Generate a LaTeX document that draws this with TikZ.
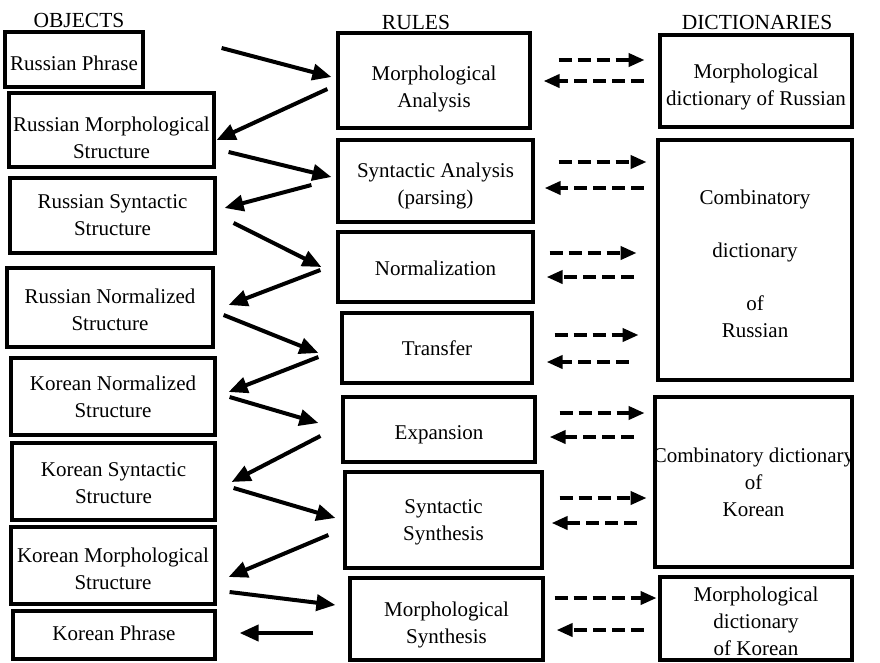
\documentclass[tikz,border=0pt]{standalone}
\usepackage{fontspec}
\setmainfont{Liberation Serif}
\usetikzlibrary{arrows.meta}
\tikzset{
  box/.style={draw, line width=3.2pt, inner sep=0pt},
  txt/.style={inner sep=0pt, align=center, font=\fontsize{21}{27}\selectfont},
  hdr/.style={inner sep=0pt, font=\fontsize{21.5}{25}\selectfont},
  sarr/.style={line width=4pt, -{Triangle[length=19pt,width=16pt]}},
  darr/.style={line width=3.8pt, dash pattern=on 13pt off 6pt, -{Triangle[length=16pt,width=13pt]}}
}
\begin{document}
\begin{tikzpicture}[x=1pt,y=-1pt]
\useasboundingbox (0,0) rectangle (880,662);
% headers
\node[hdr] (hobj) at (79,20) {OBJECTS};
\node[hdr] (hrul) at (416,22) {RULES};
\node[hdr] (hdic) at (757,22) {DICTIONARIES};
% objects
\node[box, minimum width=138pt, minimum height=55pt] (o1) at (74,59.5) {};
\node[box, minimum width=205pt, minimum height=74pt] (o2) at (111.5,130) {};
\node[box, minimum width=205pt, minimum height=75pt] (o3) at (112.5,215.5) {};
\node[box, minimum width=206pt, minimum height=79pt] (o4) at (110,307.5) {};
\node[box, minimum width=204pt, minimum height=77pt] (o5) at (113,396.5) {};
\node[box, minimum width=203pt, minimum height=77pt] (o6) at (113.5,481.5) {};
\node[box, minimum width=204pt, minimum height=77pt] (o7) at (113,565.5) {};
\node[box, minimum width=202pt, minimum height=48pt] (o8) at (114,635) {};
\node[txt] (o1t) at ([yshift=-4pt]o1.center) {Russian Phrase};
\node[txt] (o2t) at ([yshift=-8pt]o2.center) {Russian Morphological\\Structure};
\node[txt] (o3t) at ([yshift=0pt]o3.center) {Russian Syntactic\\Structure};
\node[txt] (o4t) at ([yshift=-2pt]o4.center) {Russian Normalized\\Structure};
\node[txt] (o5t) at ([yshift=0pt]o5.center) {Korean Normalized\\Structure};
\node[txt] (o6t) at ([yshift=-2pt]o6.center) {Korean Syntactic\\Structure};
\node[txt] (o7t) at ([yshift=-3pt]o7.center) {Korean Morphological\\Structure};
\node[txt] (o8t) at ([yshift=2pt]o8.center) {Korean Phrase};
% rules
\node[box, minimum width=192pt, minimum height=95pt] (r1) at (434,80.5) {};
\node[box, minimum width=195pt, minimum height=82pt] (r2) at (435.5,181) {};
\node[box, minimum width=195pt, minimum height=70pt] (r3) at (435.5,267) {};
\node[box, minimum width=190pt, minimum height=70pt] (r4) at (437,348) {};
\node[box, minimum width=192pt, minimum height=65pt] (r5) at (439,429.5) {};
\node[box, minimum width=197pt, minimum height=96pt] (r6) at (443.5,520) {};
\node[box, minimum width=193pt, minimum height=82pt] (r7) at (446.5,619) {};
\node[txt] (r1t) at ([yshift=-8pt]r1.center) {Morphological\\Analysis};
\node[txt] (r2t) at ([yshift=-5pt]r2.center) {Syntactic Analysis\\(parsing)};
\node[txt] (r3t) at ([yshift=-1pt]r3.center) {Normalization};
\node[txt] (r4t) at ([yshift=0pt]r4.center) {Transfer};
\node[txt] (r5t) at ([yshift=-5pt]r5.center) {Expansion};
\node[txt] (r6t) at ([yshift=-2pt]r6.center) {Syntactic\\Synthesis};
\node[txt] (r7t) at ([yshift=-6pt]r7.center) {Morphological\\Synthesis};
% dictionaries
\node[box, minimum width=192pt, minimum height=92pt] (d1) at (756,81) {};
\node[box, minimum width=194pt, minimum height=240pt] (d2) at (755,260) {};
\node[box, minimum width=197pt, minimum height=170pt] (d3) at (753.5,482) {};
\node[box, minimum width=192pt, minimum height=83pt] (d4) at (756,618.5) {};
\node[txt] (d1t) at ([yshift=-6pt]d1.center) {Morphological\\dictionary of Russian};
\node[txt] (d2t) at ([yshift=-4pt]d2.center) {Combinatory\\[26pt]dictionary\\[26pt]of\\Russian};
\node[txt] (d3t) at ([yshift=0pt]d3.center) {Combinatory dictionary\\of\\Korean};
\node[txt] (d4t) at ([yshift=-3pt]d4.center) {Morphological\\dictionary\\of Korean};
% solid arrows
\draw[sarr] ([shift={(77,-11.5)}]o1.east) -- ([shift={(-5,-3.5)}]r1.west);
\draw[sarr] ([shift={(-9,8.5)}]r1.west) -- ([shift={(1,10)}]o2.east);
\draw[sarr] ([shift={(13,22)}]o2.east) -- ([shift={(-5,-4)}]r2.west);
\draw[sarr] ([shift={(-25,4)}]r2.west) -- ([shift={(8,-7.5)}]o3.east);
\draw[sarr] ([shift={(17,7.5)}]o3.east) -- ([shift={(-15,0)}]r3.west);
\draw[sarr] ([shift={(-16,3)}]r3.west) -- ([shift={(14,-2.5)}]o4.east);
\draw[sarr] ([shift={(9,7.5)}]o4.east) -- ([shift={(-22,5)}]r4.west);
\draw[sarr] ([shift={(-22,9)}]r4.west) -- ([shift={(12,-4.5)}]o5.east);
\draw[sarr] ([shift={(13,0.5)}]o5.east) -- ([shift={(-23,-6.5)}]r5.west);
\draw[sarr] ([shift={(-21,6.5)}]r5.west) -- ([shift={(15,0.5)}]o6.east);
\draw[sarr] ([shift={(17,6.5)}]o6.east) -- ([shift={(-8,-2)}]r6.west);
\draw[sarr] ([shift={(-15,15)}]r6.west) -- ([shift={(12,11.5)}]o7.east);
\draw[sarr] ([shift={(13,26.5)}]o7.east) -- ([shift={(-13,-14)}]r7.west);
\draw[sarr] ([shift={(-35,14)}]r7.west) -- ([shift={(23,-2)}]o8.east);
% dashed arrows
\draw[darr] ([shift={(27,-20.5)}]r1.east) -- ++(86,0);
\draw[darr] ([shift={(112,0.5)}]r1.east) -- ++(-100,0);
\draw[darr] ([shift={(24,-19)}]r2.east) -- ++(88,0);
\draw[darr] ([shift={(109,7)}]r2.east) -- ++(-99,0);
\draw[darr] ([shift={(15,-14)}]r3.east) -- ++(87,0);
\draw[darr] ([shift={(99,10)}]r3.east) -- ++(-87,0);
\draw[darr] ([shift={(21,-13)}]r4.east) -- ++(84,0);
\draw[darr] ([shift={(95,14)}]r4.east) -- ++(-82,0);
\draw[darr] ([shift={(23,-16.5)}]r5.east) -- ++(85,0);
\draw[darr] ([shift={(97,7.5)}]r5.east) -- ++(-84,0);
\draw[darr] ([shift={(16,-22)}]r6.east) -- ++(87,0);
\draw[darr] ([shift={(93,3)}]r6.east) -- ++(-85,0);
\draw[darr] ([shift={(10,-21)}]r7.east) -- ++(102,0);
\draw[darr] ([shift={(99,11)}]r7.east) -- ++(-87,0);
\end{tikzpicture}
\end{document}
